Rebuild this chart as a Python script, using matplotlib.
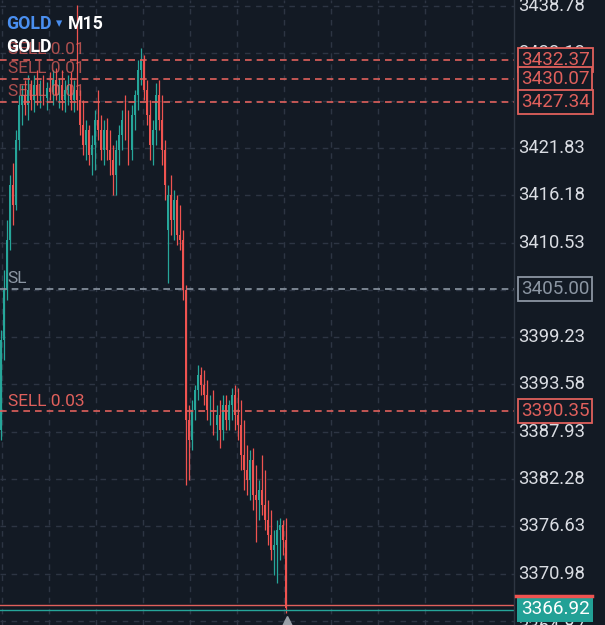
import matplotlib
matplotlib.use("Agg")
import matplotlib.pyplot as plt
from matplotlib.lines import Line2D
import numpy as np

# M15 candles (price)
opens = [3388.14, 3398.89, 3404.86, 3410.84, 3417.41, 3415.02, 3422.78, 3426.97, 3428.16, 3426.97,
         3428.76, 3427.56, 3429.35, 3428.16, 3428.76, 3427.80, 3429.00, 3428.52, 3429.95, 3428.16,
         3429.35, 3427.56, 3428.76, 3429.35, 3427.56, 3428.76, 3427.56, 3424.58, 3422.19, 3423.98,
         3420.99, 3422.19, 3425.17, 3423.98, 3421.59, 3423.98, 3421.59, 3420.39, 3418.60, 3421.59,
         3423.38, 3425.17, 3423.98, 3421.59, 3425.77, 3428.16, 3431.15, 3432.34, 3428.76, 3425.77,
         3422.19, 3423.98, 3428.16, 3425.17, 3421.59, 3412.03, 3416.21, 3413.23, 3415.62, 3411.43,
         3410.84, 3404.86, 3389.33, 3386.94, 3390.53, 3392.92, 3394.71, 3393.51, 3392.32, 3390.53,
         3391.72, 3388.74, 3389.93, 3388.14, 3391.13, 3389.33, 3391.13, 3392.32, 3389.93, 3388.74,
         3385.15, 3383.36, 3382.17, 3384.56, 3380.38, 3379.78, 3380.97, 3379.18, 3377.39, 3375.59,
         3373.80, 3374.40, 3376.19, 3376.79, 3375.00]
highs = [3400.08, 3407.25, 3413.23, 3418.60, 3420.04, 3423.98, 3428.16, 3429.35, 3429.95, 3430.55,
         3429.95, 3430.55, 3431.15, 3429.95, 3430.55, 3429.71, 3430.91, 3431.15, 3431.39, 3430.19,
         3431.15, 3429.95, 3430.55, 3430.91, 3429.95, 3438.91, 3428.76, 3427.56, 3425.17, 3424.58,
         3423.38, 3426.37, 3428.76, 3425.77, 3425.17, 3425.41, 3423.98, 3422.19, 3422.78, 3424.58,
         3426.37, 3428.16, 3426.37, 3426.97, 3428.76, 3432.34, 3433.78, 3432.94, 3429.95, 3427.56,
         3425.17, 3429.59, 3429.95, 3428.16, 3422.78, 3417.41, 3418.60, 3416.81, 3416.21, 3415.02,
         3412.03, 3405.46, 3391.13, 3391.72, 3393.51, 3395.90, 3395.67, 3395.31, 3394.11, 3392.32,
         3392.92, 3391.13, 3391.72, 3392.32, 3392.32, 3391.72, 3393.15, 3393.51, 3393.15, 3391.72,
         3389.33, 3386.35, 3385.75, 3385.99, 3383.96, 3382.17, 3385.15, 3383.36, 3379.78, 3378.58,
         3376.19, 3377.39, 3377.63, 3377.39, 3377.63]
lows = [3386.94, 3396.50, 3403.67, 3409.64, 3412.63, 3414.42, 3421.59, 3424.58, 3425.77, 3425.17,
        3426.37, 3426.13, 3426.97, 3426.61, 3426.97, 3426.37, 3427.56, 3426.97, 3427.56, 3426.61,
        3426.37, 3426.13, 3426.97, 3426.37, 3426.13, 3426.37, 3423.38, 3420.99, 3420.39, 3419.80,
        3418.60, 3419.20, 3422.78, 3420.39, 3419.80, 3420.39, 3418.60, 3416.21, 3416.21, 3419.80,
        3421.59, 3422.78, 3419.80, 3420.39, 3423.98, 3426.37, 3429.35, 3427.56, 3424.58, 3420.39,
        3419.80, 3422.19, 3423.98, 3419.80, 3415.62, 3405.70, 3411.43, 3410.84, 3410.24, 3409.64,
        3403.67, 3381.57, 3382.17, 3385.75, 3389.33, 3391.72, 3392.32, 3391.13, 3389.33, 3388.74,
        3387.54, 3386.94, 3385.99, 3386.94, 3388.14, 3388.14, 3389.33, 3388.14, 3386.94, 3383.36,
        3380.97, 3380.38, 3379.78, 3378.58, 3374.76, 3377.39, 3377.98, 3376.19, 3374.40, 3372.61,
        3370.82, 3369.86, 3372.61, 3373.21, 3366.27]
closes = [3398.89, 3404.86, 3410.84, 3417.41, 3415.02, 3422.78, 3426.97, 3428.16, 3426.97, 3428.76,
          3427.56, 3429.35, 3428.16, 3428.76, 3427.80, 3429.00, 3428.52, 3429.95, 3428.16, 3429.35,
          3427.56, 3428.76, 3429.35, 3427.56, 3428.76, 3427.56, 3424.58, 3422.19, 3423.98, 3420.99,
          3422.19, 3425.17, 3423.98, 3421.59, 3423.98, 3421.59, 3420.39, 3418.60, 3421.59, 3423.38,
          3425.17, 3423.98, 3421.59, 3425.77, 3428.16, 3431.15, 3432.34, 3428.76, 3425.77, 3422.19,
          3423.98, 3428.16, 3425.17, 3421.59, 3417.41, 3416.21, 3413.23, 3415.62, 3411.43, 3410.84,
          3404.86, 3389.33, 3386.94, 3390.53, 3392.92, 3394.71, 3393.51, 3392.32, 3390.53, 3391.72,
          3388.74, 3389.93, 3388.14, 3391.13, 3389.33, 3391.13, 3392.32, 3389.93, 3388.74, 3385.15,
          3383.36, 3382.17, 3384.56, 3380.38, 3379.78, 3380.97, 3379.18, 3377.39, 3375.59, 3373.80,
          3374.40, 3376.19, 3376.79, 3375.00, 3366.92]

tick_levels = [3438.78, 3433.13, 3427.48, 3421.83, 3416.18, 3410.53, 3404.88, 3399.23,
               3393.58, 3387.93, 3382.28, 3376.63, 3370.98, 3365.33]
shown_ticks = [3438.78, 3433.13, 3427.48, 3421.83, 3416.18, 3410.53, 3404.88, 3399.23,
               3393.58, 3387.93, 3382.28, 3376.63, 3370.98]
sell_levels = [3432.37, 3430.07, 3427.34]
sell_labels = ["SELL 0.01", "SELL 0.01", "SELL 0.01"]
sell2_level = 3390.35
sl_level = 3405.00
bid = 3366.92
ask = 3367.24

BG = "#131a24"
UP = "#26a69a"
DOWN = "#ef5350"
GRID = "#2d3543"
TXT = "#dadde3"
LINE_RED = "#e0605c"
GREY = "#8c96a3"

plt.rcParams['font.family'] = ['Roboto', 'DejaVu Sans']

fig = plt.figure(figsize=(6.05, 6.25), dpi=100, facecolor=BG)
ax = fig.add_axes([0, 0, 514 / 605, 1])
ax.set_facecolor(BG)

n = len(closes)
x = np.arange(n)
ax.set_xlim(-0.33, 169.0)
ax.set_ylim(3364.84, 3439.51)

# grid
for lvl in tick_levels:
    ax.axhline(lvl, color=GRID, lw=1, ls=(0, (4, 4)), zorder=0)
for gx in np.arange(0.3, 175, 15.5):
    ax.axvline(gx, color=GRID, lw=1, ls=(0, (4, 4)), zorder=0)

# candles
for i in range(n):
    col = UP if closes[i] >= opens[i] else DOWN
    ax.vlines(x[i], lows[i], highs[i], color=col, lw=0.9, zorder=2)
    lo, hi = sorted([opens[i], closes[i]])
    ax.bar(x[i], max(hi - lo, 0.08), bottom=lo, width=0.62, color=col, lw=0, zorder=3)

# order lines
for lvl, lab in zip(sell_levels, sell_labels):
    ax.axhline(lvl, color=LINE_RED, lw=1.2, ls=(0, (4, 3)), zorder=4)
    ax.text(2.2, lvl + 0.35, lab, color=LINE_RED, alpha=0.75, fontsize=12.5, va='bottom', zorder=5)
ax.axhline(sell2_level, color=LINE_RED, lw=1.2, ls=(0, (4, 3)), zorder=4)
ax.text(2.2, sell2_level + 0.35, "SELL 0.03", color=LINE_RED, fontsize=12.5, va='bottom', zorder=5)
ax.axhline(sl_level, color=GREY, lw=1.2, ls=(0, (4, 3)), zorder=4)
ax.text(2.2, sl_level + 0.35, "SL", color=GREY, fontsize=12.5, va='bottom', zorder=5)

ax.axhline(ask, color=LINE_RED, lw=1, zorder=4)
ax.axhline(bid - 0.25, color=UP, lw=1, zorder=4)
ax.plot(x[-1] + 0.3, ax.get_ylim()[0] + 0.35, marker='^', color='#9aa0a8', ms=9, zorder=6,
        clip_on=False)

# title
ax.text(0.012, 0.962, "GOLD", transform=ax.transAxes, color="#4a8ff0", fontsize=12.8,
        fontweight='bold', va='center', zorder=7)
ax.text(0.108, 0.962, "▾", transform=ax.transAxes, color="#4a8ff0", fontsize=9,
        va='center', family='DejaVu Sans', zorder=7)
ax.text(0.132, 0.962, "M15", transform=ax.transAxes, color="white", fontsize=12.8,
        fontweight='bold', va='center', zorder=7)
ax.text(0.012, 0.925, "GOLD", transform=ax.transAxes, color="white", fontsize=12.8,
        fontweight='bold', va='center', zorder=7)

for s in ax.spines.values():
    s.set_visible(False)
ax.set_xticks([])
ax.set_yticks([])

# right price scale
ytr = ax.get_yaxis_transform()
fig.add_artist(Line2D([514 / 605, 514 / 605], [0, 1], color="#2e3642", lw=1))
for lvl in shown_ticks:
    ax.text(1.008, lvl, f"{lvl:.2f}", transform=ytr, color=TXT, fontsize=13.2,
            va='center', ha='left', clip_on=False, zorder=8)
ax.text(1.008, 3364.65, "3364.87", transform=ytr, color=TXT, fontsize=13.2,
        va='center', ha='left', clip_on=False, zorder=8)

for lvl in sell_levels + [sell2_level]:
    ax.text(1.013, lvl, f"{lvl:.2f}", transform=ytr, color=LINE_RED, fontsize=13.6,
            va='center', ha='left', clip_on=False, zorder=10,
            bbox=dict(boxstyle='square,pad=0.16', fc=BG, ec=LINE_RED, lw=1.3))
ax.text(1.013, sl_level, f"{sl_level:.2f}", transform=ytr, color=GREY, fontsize=13.6,
        va='center', ha='left', clip_on=False, zorder=10,
        bbox=dict(boxstyle='square,pad=0.16', fc=BG, ec=GREY, lw=1.3))
ax.text(1.013, bid - 0.2, f"{bid:.2f}", transform=ytr, color="white", fontsize=13.6,
        va='center', ha='left', clip_on=False, zorder=10,
        bbox=dict(boxstyle='square,pad=0.18', fc="#22a196", ec="none"))
fig.add_artist(Line2D([516 / 605, 592 / 605], [1 - 596 / 625, 1 - 596 / 625],
                      color=DOWN, lw=2.5, zorder=11))

fig.savefig("out.png", dpi=100, facecolor=BG)
